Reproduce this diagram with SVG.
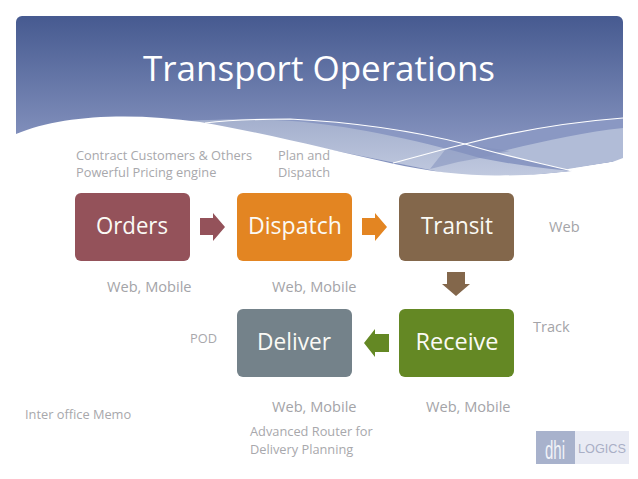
<svg xmlns="http://www.w3.org/2000/svg" width="638" height="479" viewBox="0 0 638 479">
<style>
text{font-family:"Open Sans","Noto Sans",sans-serif}
.n{font-size:23.5px;fill:#fbfaf5;text-anchor:middle}
.s{font-size:12.800px;fill:#a8a8ac}
.m{font-size:14.600px;fill:#a4a4a8}
</style>
<defs>
<linearGradient id="h" x1="0" y1="16" x2="0" y2="140" gradientUnits="userSpaceOnUse"><stop offset="0" stop-color="#465a90"/><stop offset="1" stop-color="#8391bd"/></linearGradient>
<linearGradient id="w" x1="0" y1="118" x2="0" y2="176" gradientUnits="userSpaceOnUse"><stop offset="0" stop-color="#a3afcd"/><stop offset="1" stop-color="#c0c9df"/></linearGradient>
</defs>
<rect width="638" height="479" fill="#fff"/>
<g id="header">
<path d="M16 134V22a6 6 0 0 1 6-6H617a6 6 0 0 1 6 6V160L490 180H300Z" fill="url(#h)"/>
<path d="M393 163C420 156 440 150 465 144C520 130 570 122 623 118V160L490 180Z" fill="#8a98c3"/>
<path d="M430 169C470 160 560 134 623 128V160L500 180Z" fill="#b1bcd7"/>
<path d="M188 121C220 119 260 118 290 119C350 122 410 130 465 144C500 155 540 163 572 171L480 180Z" fill="#8a98c3"/>
<path d="M188 121C225 119 262 119 292 121C345 125 410 138 480 158C510 164 545 169 572 171L480 180Z" fill="url(#w)"/>
<path d="M430 169L458 162L480 158L510 151C470 145 465 144 465 144L445 150Z" fill="#8391be" opacity=".55"/>
<path d="M16 134C60 115 130 112 200 122C270 134 330 150 390 163C430 172 470 176 500 175.500C550 175 590 172 623 158V190H16Z" fill="#fff"/>
<path d="M205 123C230 120 260 119 290 119C350 122 410 130 465 144C500 155 540 163 572 171" fill="none" stroke="#fff" stroke-width="1.200"/>
<path d="M393 163C420 156 440 150 465 144C520 130 570 122 623 118" fill="none" stroke="#fff" stroke-width="1.200"/>
<text x="319" y="81" font-size="35" fill="#fff" text-anchor="middle">Transport Operations</text>
</g>
<g id="connectors">
<path d="M200 218H213V213L225 227L213 241V235H200Z" fill="#94525a"/>
<path d="M362 218H375V213L387 227L375 241V235H362Z" fill="#e38522"/>
<path d="M447 272H465V284H470L456 296L442 284H447Z" fill="#83674b"/>
<path d="M389 334H375V329L364 343L375 357V352H389Z" fill="#648824"/>
</g>
<g id="orders"><rect x="75" y="193" width="115" height="68" rx="6" fill="#94525a"/><text class="n" x="132" y="234" textLength="72" lengthAdjust="spacingAndGlyphs">Orders</text></g>
<g id="dispatch"><rect x="237" y="193" width="115" height="68" rx="6" fill="#e38522"/><text class="n" x="295" y="234" textLength="94" lengthAdjust="spacingAndGlyphs">Dispatch</text></g>
<g id="transit"><rect x="399" y="193" width="115" height="68" rx="6" fill="#83674b"/><text class="n" x="457" y="234" textLength="72" lengthAdjust="spacingAndGlyphs">Transit</text></g>
<g id="deliver"><rect x="237" y="309" width="115" height="68" rx="6" fill="#74828a"/><text class="n" x="294" y="350" textLength="74" lengthAdjust="spacingAndGlyphs">Deliver</text></g>
<g id="receive"><rect x="399" y="309" width="115" height="68" rx="6" fill="#648824"/><text class="n" x="457" y="350" textLength="83" lengthAdjust="spacingAndGlyphs">Receive</text></g>
<g id="labels">
<text class="s" x="76" y="160">Contract Customers &amp; Others</text>
<text class="s" x="76" y="177">Powerful Pricing engine</text>
<text class="s" x="278" y="160">Plan and</text>
<text class="s" x="278" y="177">Dispatch</text>
<text class="m" x="107" y="292">Web, Mobile</text>
<text class="m" x="272" y="292">Web, Mobile</text>
<text class="m" x="549" y="232">Web</text>
<text class="m" x="533" y="332">Track</text>
<text class="s" x="190" y="343">POD</text>
<text class="s" x="25" y="419">Inter office Memo</text>
<text class="m" x="272" y="412">Web, Mobile</text>
<text class="m" x="426" y="412">Web, Mobile</text>
<text class="s" x="250" y="436">Advanced Router for</text>
<text class="s" x="250" y="454">Delivery Planning</text>
</g>
<g id="logo">
<rect x="536" y="431" width="93" height="33" fill="#e9ebf4"/>
<rect x="536" y="431" width="39" height="33" fill="#a8b2cc"/>
<text x="555" y="459" font-size="25" fill="#f1f3f8" text-anchor="middle" textLength="20" lengthAdjust="spacingAndGlyphs" style="font-family:'Liberation Sans',sans-serif">dhi</text>
<text x="578" y="453" font-size="12.500" fill="#a9afc6" textLength="48" lengthAdjust="spacingAndGlyphs" style="font-family:'Liberation Sans',sans-serif">LOGICS</text>
</g>
</svg>
